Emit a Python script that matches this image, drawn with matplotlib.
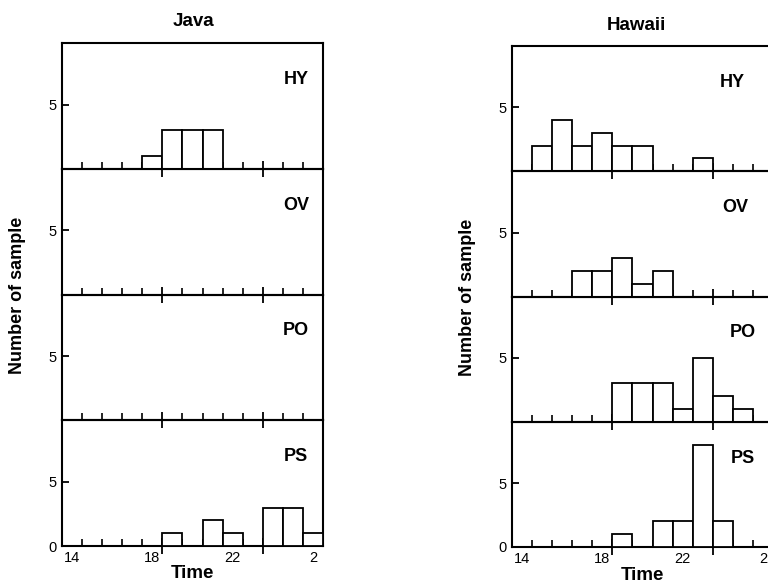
import matplotlib
matplotlib.use("Agg")
import matplotlib.pyplot as plt
import matplotlib.transforms as mtransforms
import numpy as np

plt.rcParams['font.family'] = ['Liberation Sans', 'DejaVu Sans']

# one-hour bins, start hour of each bin (13:00 .. 01:00)
hours = np.arange(13, 26)
groups = ['HY', 'OV', 'PO', 'PS']

java_hy = [0, 0, 0, 0, 1, 3, 3, 3, 0, 0, 0, 0, 0]
java_ov = [0, 0, 0, 0, 0, 0, 0, 0, 0, 0, 0, 0, 0]
java_po = [0, 0, 0, 0, 0, 0, 0, 0, 0, 0, 0, 0, 0]
java_ps = [0, 0, 0, 0, 0, 1, 0, 2, 1, 0, 3, 3, 1]

hawaii_hy = [0, 2, 4, 2, 3, 2, 2, 0, 0, 1, 0, 0, 0]
hawaii_ov = [0, 0, 0, 2, 2, 3, 1, 2, 0, 0, 0, 0, 0]
hawaii_po = [0, 0, 0, 0, 0, 3, 3, 3, 1, 5, 2, 1, 0]
hawaii_ps = [0, 0, 0, 0, 0, 1, 0, 2, 2, 8, 2, 0, 0]

time_ticks = [14, 18, 22, 26]
time_labels = ['14', '18', '22', '2']
long_ticks = [18, 23]

W, H = 768, 584
fig = plt.figure(figsize=(W / 100, H / 100), dpi=100)


def draw_site(left, top, bottom, width, series, title, title_xy, ylab_xy, time_xy, label_x):
    ph = (bottom - top) / 4
    for i, (name, counts) in enumerate(zip(groups, series)):
        ax = fig.add_axes([left / W, 1 - (top + (i + 1) * ph) / H, width / W, ph / H])
        ax.patch.set_visible(False)  # keep the long ticks of the panel above visible
        counts = np.array(counts)
        m = counts > 0
        ax.bar(hours[m], counts[m], width=1, align='edge', facecolor='white',
               edgecolor='black', linewidth=1.3, zorder=3)
        ax.set_xlim(13, 26)
        ax.set_ylim(0, 9.8)
        for s in ax.spines.values():
            s.set_linewidth(1.5)
        ax.set_xticks(long_ticks)
        ax.set_xticks([h for h in range(14, 26) if h not in long_ticks], minor=True)
        ax.tick_params(axis='x', which='major', direction='inout', length=12, width=1.3,
                       labelbottom=False)
        ax.tick_params(axis='x', which='minor', direction='in', length=5, width=1.2)
        if i == 3:
            ax.set_yticks([0, 5])
        else:
            ax.set_yticks([5])
        ax.tick_params(axis='y', direction='in', length=5, width=1.3, labelsize=10.5, pad=4)
        ax.text(label_x[i], 0.71, name, transform=ax.transAxes, ha='center', va='center',
                fontsize=13, fontweight='bold')
        if i == 3:
            off = mtransforms.ScaledTranslation(-10 / 100, -12 / 100, fig.dpi_scale_trans)
            tr = mtransforms.blended_transform_factory(ax.transData, ax.transAxes) + off
            for t, lab in zip(time_ticks, time_labels):
                ax.text(t, 0, lab, transform=tr, ha='center', va='center', fontsize=10.5)
    fig.text(title_xy[0] / W, 1 - title_xy[1] / H, title, ha='center', va='center',
             fontsize=13.5, fontweight='bold')
    fig.text(ylab_xy[0] / W, 1 - ylab_xy[1] / H, 'Number of sample', rotation=90,
             ha='center', va='center', fontsize=13, fontweight='bold')
    fig.text(time_xy[0] / W, 1 - time_xy[1] / H, 'Time', ha='center', va='center',
             fontsize=13.5, fontweight='bold')


draw_site(62, 43, 546, 261, [java_hy, java_ov, java_po, java_ps], 'Java',
          (193, 21), (18, 295), (192, 574), [0.897, 0.897, 0.897, 0.897])
draw_site(512, 46, 547, 261, [hawaii_hy, hawaii_ov, hawaii_po, hawaii_ps], 'Hawaii',
          (636, 25), (468, 297), (642, 576), [0.843, 0.854, 0.885, 0.885])

fig.savefig('out.png', dpi=100)
